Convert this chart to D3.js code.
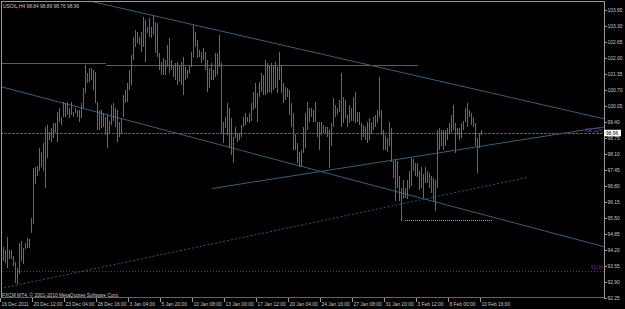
<!DOCTYPE html>
<html>
<head>
<meta charset="utf-8">
<script src="https://cdn.jsdelivr.net/npm/d3@7/dist/d3.min.js"></script>
<style>
  html, body { margin: 0; padding: 0; background: #000; }
  svg { display: block; }
  text { font-family: "Liberation Sans", Arial, sans-serif; }
</style>
</head>
<body>
<svg id="chart" width="625" height="309"></svg>
<script>
const symbolTitle = 'USOIL,H4  98.84 98.89 98.76 98.96';
const copyright = 'FXCM MT4, \u00a9 2001-2010 MetaQuotes Software Corp.';
const lastPrice = 98.96;

// H4 bars, 16 Dec 2011 00:00 .. 10 Feb 2012
const highs = [
  94.32, 94.32, 94.20, 94.73, 94.20, 94.20, 93.96, 93.71, 93.47, 94.49,
  94.57, 94.28, 94.49, 94.69, 94.65, 95.47, 97.51, 97.55, 97.59, 98.32,
  98.16, 98.53, 99.18, 99.26, 99.01, 99.14, 99.34, 99.34, 99.79, 99.99,
  99.59, 100.20, 100.16, 100.20, 99.99, 100.20, 99.79, 99.99, 99.87, 99.87,
  100.16, 100.77, 101.71, 101.38, 101.59, 101.59, 101.50, 101.42, 100.20, 99.87,
  99.87, 99.75, 99.59, 99.67, 99.46, 100.08, 100.16, 99.99, 99.87, 99.38,
  99.55, 100.48, 100.69, 100.97, 101.50, 102.12, 102.85, 103.14, 103.05, 102.85,
  103.05, 103.67, 103.54, 103.26, 103.63, 103.26, 103.75, 103.46, 103.42, 102.20,
  101.83, 101.99, 101.91, 102.52, 102.81, 101.91, 101.71, 101.79, 101.83, 101.71,
  101.83, 102.03, 101.63, 101.50, 101.71, 102.24, 103.34, 103.05, 102.73, 102.32,
  102.24, 102.40, 102.24, 101.91, 101.59, 101.79, 101.50, 102.20, 102.20, 102.93,
  101.79, 99.38, 99.59, 100.16, 99.95, 99.55, 98.77, 99.18, 98.93, 98.97,
  99.26, 99.59, 99.75, 99.59, 99.75, 100.16, 100.61, 100.97, 100.57, 101.01,
  101.38, 101.30, 101.91, 101.79, 101.71, 101.79, 101.71, 101.83, 101.63, 102.24,
  101.71, 100.97, 100.81, 100.77, 100.69, 100.16, 99.75, 98.93, 98.53, 98.16,
  98.24, 99.18, 99.75, 100.20, 99.95, 99.99, 99.87, 100.20, 99.38, 99.38,
  99.38, 99.26, 99.18, 99.18, 99.06, 99.34, 100.36, 100.08, 99.95, 100.28,
  101.38, 100.40, 100.28, 99.67, 100.08, 99.95, 100.40, 100.61, 99.79, 99.79,
  99.34, 99.26, 99.18, 99.38, 99.55, 99.38, 99.59, 99.67, 99.87, 101.22,
  99.87, 99.06, 98.85, 98.73, 99.38, 99.14, 97.83, 97.91, 97.83, 97.22,
  96.73, 97.02, 96.73, 97.02, 97.42, 97.95, 97.91, 97.71, 97.71, 97.42,
  97.55, 97.30, 97.55, 97.42, 97.34, 97.22, 97.10, 97.02, 99.06, 99.14,
  99.06, 99.06, 99.06, 99.14, 99.34, 99.67, 100.08, 99.34, 99.14, 99.14,
  99.34, 99.46, 99.99, 100.16, 99.87, 99.75, 99.59, 99.34, 98.73, 98.97,
  99.06
];

const lows = [
  93.47, 93.75, 93.67, 93.47, 93.83, 93.83, 93.55, 92.85, 92.81, 93.22,
  93.75, 93.63, 94.24, 94.28, 94.28, 94.89, 95.26, 96.89, 97.22, 97.42,
  97.55, 97.42, 96.73, 97.95, 98.65, 98.57, 98.73, 98.97, 98.57, 99.38,
  99.26, 99.59, 99.59, 99.67, 99.55, 99.67, 99.59, 99.75, 99.59, 99.38,
  99.55, 99.99, 100.57, 100.97, 101.01, 101.10, 100.69, 100.16, 99.06, 99.06,
  99.14, 99.18, 98.85, 98.32, 98.97, 99.26, 99.46, 99.18, 98.57, 98.77,
  98.93, 99.59, 100.16, 100.20, 100.69, 100.89, 101.91, 102.44, 102.61, 102.52,
  102.24, 102.44, 101.83, 103.01, 102.85, 102.81, 102.93, 102.20, 102.03, 101.50,
  101.30, 101.30, 101.30, 101.63, 101.38, 101.50, 101.22, 101.10, 100.89, 101.01,
  100.89, 100.48, 101.10, 101.18, 101.38, 101.63, 102.03, 102.44, 101.99, 102.03,
  101.79, 101.91, 101.50, 100.61, 100.77, 101.10, 101.10, 101.22, 101.30, 101.63,
  98.97, 98.53, 99.14, 98.85, 98.36, 98.04, 97.71, 98.73, 98.57, 98.65,
  98.77, 99.18, 99.26, 99.38, 99.34, 99.46, 99.87, 99.99, 99.38, 100.40,
  100.61, 100.48, 100.48, 100.57, 100.61, 100.57, 100.69, 100.77, 100.57, 101.10,
  100.57, 100.16, 100.28, 100.40, 99.67, 99.18, 98.24, 98.24, 97.71, 97.55,
  97.55, 98.12, 98.36, 99.06, 99.38, 99.59, 99.38, 99.38, 98.77, 98.24,
  98.85, 98.97, 98.93, 98.77, 97.51, 98.44, 99.18, 99.59, 99.67, 99.79,
  99.18, 99.34, 99.55, 99.18, 99.34, 99.46, 99.46, 99.34, 99.38, 99.26,
  98.65, 98.77, 98.65, 98.53, 98.65, 98.93, 99.06, 99.18, 99.34, 99.59,
  98.85, 98.24, 98.24, 98.16, 98.44, 97.75, 97.10, 96.20, 96.73, 96.20,
  95.38, 96.32, 96.32, 96.28, 96.69, 96.81, 97.42, 97.22, 97.14, 96.61,
  96.73, 96.32, 96.93, 96.93, 96.73, 96.49, 96.20, 95.79, 96.73, 98.24,
  98.44, 98.24, 98.44, 98.65, 98.93, 98.97, 99.06, 98.12, 98.85, 98.65,
  98.73, 99.06, 99.38, 99.18, 99.59, 99.26, 99.18, 98.44, 97.34, 98.32,
  98.85
];

const priceTicks = [
  103.95, 103.30, 102.65, 102.00, 101.35, 100.70, 100.05, 99.40, 98.75, 98.10,
  97.45, 96.80, 96.15, 95.50, 94.85, 94.20, 93.55, 92.90, 92.25
];

const timeLabels = [
  '16 Dec 2011', '20 Dec 12:00', '23 Dec 04:00', '28 Dec 16:00', '3 Jan 04:00',
  '5 Jan 20:00', '10 Jan 08:00', '13 Jan 00:00', '17 Jan 12:00', '20 Jan 04:00',
  '24 Jan 16:00', '27 Jan 08:00', '31 Jan 20:00', '3 Feb 12:00', '8 Feb 00:00',
  '10 Feb 16:00'
];
const BARS_PER_LABEL = 16;

// chart objects: [bar index, price] anchors
const trendLines = [
  { name: 'channelTop', from: [40, 104.41], to: [301.5, 99.53] },
  { name: 'channelBottom', from: [-0.5, 100.85], to: [301.5, 94.32] },
  { name: 'support', from: [105.5, 96.69], to: [301.5, 99.20] },
  { name: 'longSupport', from: [-0.5, 92.61], to: [263, 97.14] }
];

const horizontalLines = [
  { name: 'resistanceA', from: 0, to: 52.5, price: 101.79 },
  { name: 'resistanceB', from: 52.5, to: 208.5, price: 101.73 },
  { name: 'level', from: -0.5, to: 301.5, price: 98.95, label: 'CE 10%' },
  { name: 'lowLevel', from: -0.5, to: 301.5, price: 93.34, label: '93.34' },
  { name: 'zigzag', from: 202, to: 246, price: 95.40 },
  { name: 'floor', from: -0.5, to: 301.5, price: 92.26 }
];

const LINE_STYLES = {
  channelTop: { stroke: '#33607f', dash: null },
  channelBottom: { stroke: '#33607f', dash: null },
  support: { stroke: '#33607f', dash: null },
  longSupport: { stroke: '#2e5878', dash: '2,2' },
  resistanceA: { stroke: '#b020b0', dash: null },
  resistanceB: { stroke: '#b020b0', dash: null },
  level: { stroke: '#7a3f7a', dash: '3,1', text: '#6a3fae' },
  lowLevel: { stroke: '#8a1f8a', dash: '1,2', text: '#8a1f8a' },
  zigzag: { stroke: '#d4a010', dash: '1,1' },
  floor: { stroke: '#c83838', dash: null }
};

const BAR_COLOR = '#1f9e1f';
const TEXT_COLOR = '#c8c8c8';
const FRAME_COLOR = '#9a9a9a';
const FONT_SIZE = 5.6;
const TEXT_SQUEEZE = 0.87;

const PLOT = { left: 1, right: 604, top: 1, bottom: 298 };

const svg = d3.select('#chart');

const x = d3.scaleLinear().domain([0, 301.5]).range([1, 604]);
const y = d3.scaleLinear().domain([92.25, 103.95]).range([297.5, 10.3]);

// narrow MT4-like text
function addText(parent, tx, ty, str, fill, anchor = 'start') {
  return parent.append('text')
    .attr('transform', `translate(${tx},${ty}) scale(${TEXT_SQUEEZE},1)`)
    .attr('font-size', FONT_SIZE)
    .attr('text-anchor', anchor)
    .attr('fill', fill)
    .text(str);
}

svg.append('rect').attr('width', 625).attr('height', 309).attr('fill', '#000');

svg.append('defs')
  .append('clipPath')
  .attr('id', 'plot-clip')
  .append('rect')
  .attr('x', PLOT.left)
  .attr('y', PLOT.top)
  .attr('width', PLOT.right - PLOT.left)
  .attr('height', PLOT.bottom - PLOT.top);

const plot = svg.append('g').attr('clip-path', 'url(#plot-clip)');

// horizontal objects
plot.append('g')
  .attr('class', 'h-lines')
  .selectAll('line')
  .data(horizontalLines)
  .join('line')
  .attr('x1', (d) => x(d.from))
  .attr('x2', (d) => x(d.to))
  .attr('y1', (d) => Math.round(y(d.price)) + 0.5)
  .attr('y2', (d) => Math.round(y(d.price)) + 0.5)
  .attr('stroke', (d) => LINE_STYLES[d.name].stroke)
  .attr('stroke-dasharray', (d) => LINE_STYLES[d.name].dash)
  .attr('stroke-width', 1)
  .attr('shape-rendering', 'crispEdges');

// trend lines
plot.append('g')
  .attr('class', 'trend-lines')
  .selectAll('line')
  .data(trendLines)
  .join('line')
  .attr('x1', (d) => x(d.from[0]))
  .attr('y1', (d) => y(d.from[1]))
  .attr('x2', (d) => x(d.to[0]))
  .attr('y2', (d) => y(d.to[1]))
  .attr('stroke', (d) => LINE_STYLES[d.name].stroke)
  .attr('stroke-dasharray', (d) => LINE_STYLES[d.name].dash)
  .attr('stroke-width', 1);

// bars
const bars = highs.map((high, i) => ({ i, high, low: lows[i] }));
plot.append('g')
  .attr('class', 'bars')
  .selectAll('line')
  .data(bars)
  .join('line')
  .attr('x1', (d) => x(d.i) + 0.5)
  .attr('x2', (d) => x(d.i) + 0.5)
  .attr('y1', (d) => y(d.high))
  .attr('y2', (d) => Math.max(y(d.low), y(d.high) + 1))
  .attr('stroke', BAR_COLOR)
  .attr('stroke-width', 1)
  .attr('shape-rendering', 'crispEdges');

// level labels near the right edge
const levelLabels = svg.append('g').attr('class', 'level-labels');
horizontalLines
  .filter((d) => d.label)
  .forEach((d) => addText(levelLabels, PLOT.right - 1, y(d.price) - 1.5, d.label, LINE_STYLES[d.name].text, 'end'));

// frame
svg.append('path')
  .attr('d', `M${PLOT.left + 0.5},${PLOT.bottom}V${PLOT.top + 0.5}H${PLOT.right + 0.5}V${PLOT.bottom + 0.5}`)
  .attr('fill', 'none')
  .attr('stroke', FRAME_COLOR)
  .attr('shape-rendering', 'crispEdges');

// price axis
const priceAxis = svg.append('g').attr('class', 'price-axis');
priceAxis
  .selectAll('line')
  .data(priceTicks)
  .join('line')
  .attr('x1', PLOT.right)
  .attr('x2', PLOT.right + 3)
  .attr('y1', (d) => Math.round(y(d)) + 0.5)
  .attr('y2', (d) => Math.round(y(d)) + 0.5)
  .attr('stroke', FRAME_COLOR)
  .attr('shape-rendering', 'crispEdges');
priceTicks.forEach((d) => addText(priceAxis, PLOT.right + 3.5, y(d) + 2, d.toFixed(2), TEXT_COLOR));

// current price box
const priceY = y(lastPrice);
svg.append('rect')
  .attr('x', PLOT.right)
  .attr('y', priceY - 3)
  .attr('width', 17)
  .attr('height', 6.5)
  .attr('fill', '#ffffff');
addText(svg, PLOT.right + 2, priceY + 2, lastPrice.toFixed(2), '#000');

// time axis
const timeAxis = svg.append('g').attr('class', 'time-axis');
const timeTicks = timeLabels.map((label, k) => ({ label, i: k * BARS_PER_LABEL }));
timeAxis
  .selectAll('line')
  .data(timeTicks)
  .join('line')
  .attr('x1', (d) => Math.round(x(d.i)) - 0.5)
  .attr('x2', (d) => Math.round(x(d.i)) - 0.5)
  .attr('y1', PLOT.bottom)
  .attr('y2', PLOT.bottom + 4)
  .attr('stroke', FRAME_COLOR)
  .attr('shape-rendering', 'crispEdges');
timeTicks.forEach((d) => addText(timeAxis, x(d.i) + 0.5, 305.5, d.label, TEXT_COLOR));

// captions
addText(svg, 3, 7.5, symbolTitle, TEXT_COLOR);
addText(svg, 2, 296.5, copyright, TEXT_COLOR);
</script>
</body>
</html>
